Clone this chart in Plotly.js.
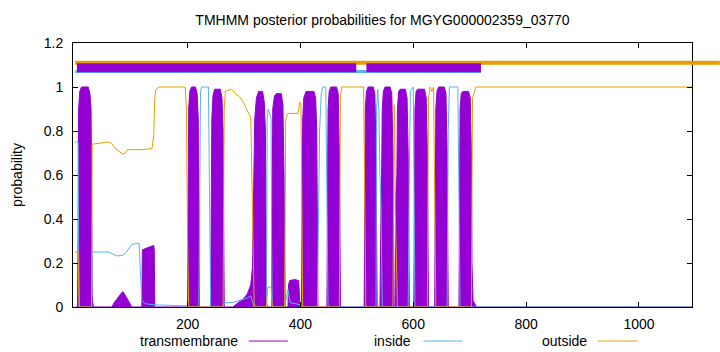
<!DOCTYPE html>
<html>
<head>
<meta charset="utf-8">
<script src="https://cdn.plot.ly/plotly-3.0.1.min.js"></script>
<style>html,body{margin:0;padding:0;background:#fff;}#chart{width:720px;height:352px;}</style>
</head>
<body>
<div id="chart"></div>
<script>
// ---- data ----
const seqLength = 1094;

// transmembrane posterior probability (residue, probability)
const tmRes = [1,5,6,7,9,12,24,27,29,30,31,33,
  66,70,76,82,85,88,93,97,101,
  119,120,125,130,135,140,141,142,
  200,201,202,204,207,214,217,219,220,221,
  241,242,243,245,248,258,261,263,264,265,
  280,290,300,306,312,315,317,319,322,326,333,336,338,339,340,341,
  349,350,351,354,358,366,369,371,372,373,
  378,379,381,390,397,398,399,
  402,403,404,406,410,424,427,429,430,431,
  447,448,449,451,454,464,467,469,470,471,
  513,514,515,517,520,529,532,534,535,536,
  541,542,543,544,545,547,550,559,562,564,565,566,
  568,569,571,572,574,577,586,589,591,592,593,
  601,602,603,605,608,620,623,625,626,627,
  638,639,640,642,645,655,658,660,661,662,
  681,682,683,685,688,698,701,703,704,706,710,712,1094];
const tmProb = [0,0,0.3,0.9,0.98,1.0,1.0,0.97,0.9,0.5,0.05,0,
  0,0.02,0.04,0.065,0.07,0.06,0.04,0.02,0,
  0,0.26,0.265,0.27,0.275,0.28,0.26,0,
  0,0.4,0.9,0.98,1.0,1.0,0.97,0.85,0.3,0,
  0,0.4,0.85,0.96,0.99,0.99,0.95,0.8,0.2,0,
  0,0.02,0.04,0.06,0.1,0.18,0.5,0.85,0.95,0.98,0.98,0.93,0.8,0.3,0.02,0,
  0,0.5,0.9,0.96,0.97,0.97,0.92,0.6,0.1,0,
  0,0.1,0.12,0.125,0.12,0.05,0.01,
  0,0.4,0.85,0.95,0.98,0.98,0.95,0.8,0.3,0,
  0,0.5,0.9,0.98,1.0,1.0,0.97,0.7,0.1,0,
  0,0.5,0.9,0.98,1.0,1.0,0.97,0.7,0.1,0,
  0,0.4,0.5,0.6,0.9,0.98,1.0,1.0,0.97,0.7,0.1,0,
  0,0.5,0.6,0.9,0.98,0.99,0.99,0.95,0.7,0.1,0,
  0,0.5,0.9,0.98,0.99,0.99,0.95,0.7,0.1,0,
  0,0.5,0.9,0.98,1.0,1.0,0.97,0.7,0.1,0,
  0,0.5,0.9,0.97,0.98,0.98,0.95,0.7,0.2,0.03,0.01,0,0];

// inside posterior probability
const inRes = [1,6,7,8,30,31,60,68,75,85,92,97,102,114,116,119,125,140,200,201,
  220,221,223,225,237,239,241,263,265,280,295,305,312,315,318,
  340,341,343,346,348,349,350,372,374,378,382,400,403,
  430,432,434,437,440,445,447,449,534,535,537,539,541,543,545,
  591,593,595,600,601,603,660,662,664,679,681,683,1094];
const inProb = [0.75,0.75,0.3,0,0,0.25,0.25,0.24,0.232,0.235,0.25,0.27,0.285,0.29,0.2,0.03,0.015,0.01,0.005,0,
  0,0.5,0.98,1.0,1.0,0.5,0,0,0.02,0.02,0.03,0.04,0.05,0.02,0,
  0,0.85,0.9,0.88,0.86,0.3,0,0,0.03,0.08,0.02,0.01,0,
  0,0.4,0.8,0.97,1.0,1.0,0.5,0,0,0.9,0.99,0.9,0.6,0.45,0,
  0,0.6,0.98,1.0,0.5,0,0,0.8,1.0,1.0,0.5,0,0];

// outside posterior probability
const outRes = [1,6,7,8,30,31,60,65,72,80,85,90,93,119,137,140,142,144,150,196,198,200,202,
  263,265,267,278,285,292,298,303,309,312,314,316,318,320,
  340,342,348,350,372,374,377,396,399,401,402,404,
  469,471,473,512,514,516,564,566,567,568,570,572,
  625,627,630,633,636,638,640,703,705,711,1094];
const outProb = [0.25,0.25,0.1,0,0,0.74,0.75,0.745,0.72,0.705,0.695,0.7,0.715,0.715,0.72,0.78,0.95,0.99,1.0,1.0,0.9,0.3,0,
  0,0.9,0.98,0.99,0.97,0.955,0.935,0.91,0.88,0.86,0.6,0.2,0.02,0,
  0,0.09,0.09,0,0,0.85,0.88,0.88,0.93,0.93,0.4,0,
  0,0.95,1.0,1.0,0.5,0,0,0.92,0.9,0.45,0.2,0,
  0,0.95,1.0,0.98,1.0,0.5,0,0,0.95,1.0,1.0];

// predicted topology bands drawn above the curves (residue ranges)
const bandOutside = [[1, 1094]];
const bandInside = [[1, 720]];
const bandTM = [[4, 499], [517, 720]];

const xTickVals = [200, 400, 600, 800, 1000];
const yTickVals = [0, 0.2, 0.4, 0.6, 0.8, 1, 1.2];
const seriesNames = ['transmembrane', 'inside', 'outside'];

// ---- styling ----
const cTM = '#9400D3', cIn = '#56B4E9', cOut = '#E69F00';
const FONT = 'Liberation Sans, Arial, Helvetica, sans-serif';
const levels = {outside: 1.11, tm: 1.087, inside: 1.07};

function bandXY(ranges, level) {
  const x = [], y = [];
  ranges.forEach((r, i) => {
    if (i > 0) { x.push(null); y.push(null); }
    x.push(r[0], r[1]); y.push(level, level);
  });
  return {x, y};
}

const bo = bandXY(bandOutside, levels.outside);
const bi = bandXY(bandInside, levels.inside);
const bt = bandXY(bandTM, levels.tm);

const traces = [
  {x: tmRes, y: tmProb, type: 'scatter', mode: 'lines', fill: 'tozeroy',
   fillcolor: cTM, line: {color: cTM, width: 1}, showlegend: false, hoverinfo: 'skip'},
  {x: inRes, y: inProb, type: 'scatter', mode: 'lines', line: {color: cIn, width: 1}, showlegend: false},
  {x: outRes, y: outProb, type: 'scatter', mode: 'lines', line: {color: cOut, width: 1}, showlegend: false},
  {x: bo.x, y: bo.y, type: 'scatter', mode: 'lines', line: {color: cOut, width: 4}, showlegend: false, connectgaps: false},
  {x: bi.x, y: bi.y, type: 'scatter', mode: 'lines', line: {color: cIn, width: 3}, showlegend: false, connectgaps: false},
  {x: bt.x, y: bt.y, type: 'scatter', mode: 'lines', line: {color: cTM, width: 9}, showlegend: false, connectgaps: false}
];

// custom gnuplot-style key: text followed by a sample line
const keyY = -0.129;
const keyItems = [
  {name: seriesNames[0], color: cTM, textEnd: 0.269, l0: 0.284, l1: 0.347},
  {name: seriesNames[1], color: cIn, textEnd: 0.550, l0: 0.566, l1: 0.629},
  {name: seriesNames[2], color: cOut, textEnd: 0.834, l0: 0.848, l1: 0.912}
];
const annotations = keyItems.map(k => ({
  text: k.name, xref: 'paper', yref: 'paper', x: k.textEnd, y: keyY,
  xanchor: 'right', yanchor: 'middle', showarrow: false,
  font: {family: FONT, size: 14, color: '#000'}
}));
const shapes = keyItems.map(k => ({
  type: 'line', xref: 'paper', yref: 'paper', x0: k.l0, x1: k.l1, y0: keyY, y1: keyY,
  line: {color: k.color, width: 1}
}));
// gnuplot draws the outside band past the right border
shapes.push({type: 'line', xref: 'paper', yref: 'y', x0: 1, x1: 1.045,
  y0: levels.outside, y1: levels.outside, line: {color: cOut, width: 4}});

const layout = {
  width: 720, height: 352,
  margin: {l: 73, r: 28, t: 43, b: 45, pad: 0},
  paper_bgcolor: '#fff', plot_bgcolor: '#fff',
  font: {family: FONT, size: 14, color: '#000'},
  title: {text: 'TMHMM posterior probabilities for MGYG000002359_03770',
    font: {family: FONT, size: 14, color: '#000'},
    xref: 'paper', x: 0.5, xanchor: 'center', yref: 'container', y: 0.943, yanchor: 'middle'},
  xaxis: {range: [-3, seqLength], tickvals: xTickVals, ticks: 'inside', ticklen: 5,
    tickcolor: '#000', showline: true, linecolor: '#000', linewidth: 1, mirror: 'ticks',
    showgrid: false, zeroline: false, ticklabelstandoff: 4,
    tickfont: {family: FONT, size: 14, color: '#000'}},
  yaxis: {range: [0, 1.2], tickvals: yTickVals, ticks: 'inside', ticklen: 5,
    tickcolor: '#000', showline: true, linecolor: '#000', linewidth: 1, mirror: 'ticks',
    showgrid: false, zeroline: false, ticklabelstandoff: 6,
    title: {text: 'probability', font: {family: FONT, size: 14, color: '#000'}, standoff: 17},
    tickfont: {family: FONT, size: 14, color: '#000'}},
  showlegend: false,
  annotations: annotations,
  shapes: shapes
};

Plotly.newPlot('chart', traces, layout, {displayModeBar: false, staticPlot: true});
</script>
</body>
</html>
